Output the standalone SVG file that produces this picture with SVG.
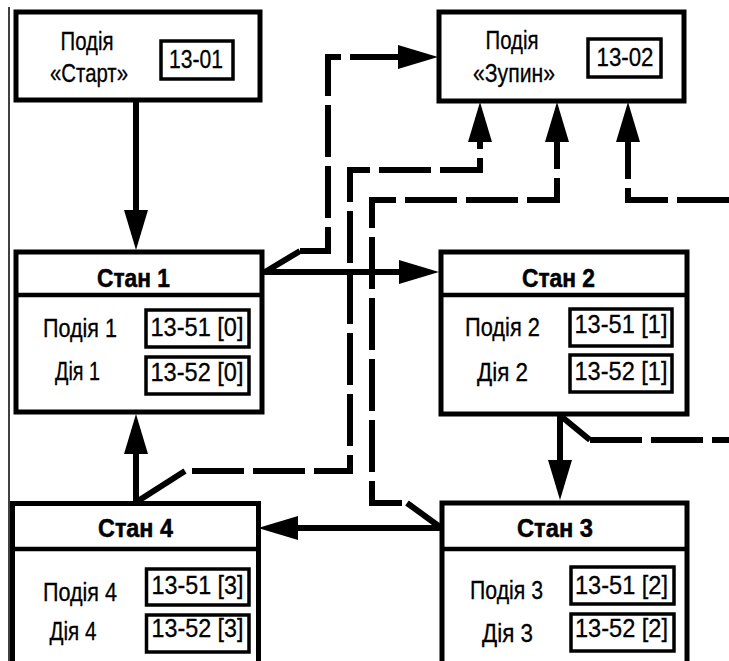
<svg xmlns="http://www.w3.org/2000/svg" width="729" height="661" viewBox="0 0 729 661">
<style>
.box{fill:#fff;stroke:#000;stroke-width:5}
.inner{fill:none;stroke:#000;stroke-width:3.5}
.div{stroke:#000;stroke-width:4.5;fill:none}
.t{font-family:"Liberation Sans Narrow","Liberation Sans",Arial,sans-serif;font-size:25px;fill:#000;text-anchor:middle;stroke:#000;stroke-width:0.3}
.b{font-weight:bold;stroke-width:0.5}
.solid{fill:none;stroke:#000;stroke-width:6}
.dash{fill:none;stroke:#000;stroke-width:6;stroke-dasharray:52 9}
</style>
<defs>
<marker id="ah" markerUnits="userSpaceOnUse" markerWidth="42" markerHeight="26" refX="0" refY="12" orient="auto" overflow="visible">
<path d="M0,0 L40,12 L0,24 Z" fill="#000"/>
</marker>
</defs>
<rect width="729" height="661" fill="#fff"/>
<line x1="9" y1="7" x2="9" y2="661" stroke="#000" stroke-width="1.5"/>

<g id="start">
<rect class="box" x="16" y="12" width="244" height="88"/>
<text class="t" x="87" y="50" textLength="53" lengthAdjust="spacingAndGlyphs">Подія</text>
<text class="t" x="89" y="82" textLength="78" lengthAdjust="spacingAndGlyphs">«Старт»</text>
<rect class="inner" x="161" y="41" width="72" height="38"/>
<text class="t" x="196" y="68" textLength="54" lengthAdjust="spacingAndGlyphs">13-01</text>
</g>

<g id="stop">
<rect class="box" x="439" y="12" width="245" height="89"/>
<text class="t" x="512" y="49" textLength="53" lengthAdjust="spacingAndGlyphs">Подія</text>
<text class="t" x="514" y="82" textLength="82" lengthAdjust="spacingAndGlyphs">«Зупин»</text>
<rect class="inner" x="588" y="39" width="73" height="38"/>
<text class="t" x="625" y="66" textLength="57" lengthAdjust="spacingAndGlyphs">13-02</text>
</g>

<g id="stan1">
<rect class="box" x="16" y="252" width="246" height="160"/>
<line class="div" x1="16" y1="295" x2="262" y2="295"/>
<text class="t b" x="133.5" y="287" textLength="73" lengthAdjust="spacingAndGlyphs">Стан 1</text>
<text class="t" x="80" y="337" textLength="74" lengthAdjust="spacingAndGlyphs">Подія 1</text>
<text class="t" x="77.5" y="380" textLength="45" lengthAdjust="spacingAndGlyphs">Дія 1</text>
<rect class="inner" x="146" y="310" width="103" height="37"/>
<rect class="inner" x="146" y="357" width="103" height="37"/>
<text class="t" x="197" y="336" textLength="93" lengthAdjust="spacingAndGlyphs">13-51 [0]</text>
<text class="t" x="197" y="381" textLength="93" lengthAdjust="spacingAndGlyphs">13-52 [0]</text>
</g>

<g id="stan2">
<rect class="box" x="441" y="252" width="246" height="162"/>
<line class="div" x1="441" y1="295" x2="687" y2="295"/>
<text class="t b" x="558.5" y="287" textLength="73" lengthAdjust="spacingAndGlyphs">Стан 2</text>
<text class="t" x="502.5" y="336" textLength="75" lengthAdjust="spacingAndGlyphs">Подія 2</text>
<text class="t" x="502.5" y="381" textLength="51" lengthAdjust="spacingAndGlyphs">Дія 2</text>
<rect class="inner" x="570" y="309" width="102" height="37"/>
<rect class="inner" x="570" y="355" width="102" height="37"/>
<text class="t" x="621" y="333" textLength="93" lengthAdjust="spacingAndGlyphs">13-51 [1]</text>
<text class="t" x="621" y="380" textLength="93" lengthAdjust="spacingAndGlyphs">13-52 [1]</text>
</g>

<g id="stan4">
<rect class="box" x="12.5" y="503.5" width="246" height="170"/>
<line class="div" x1="12.5" y1="549" x2="258.5" y2="549"/>
<text class="t b" x="135.5" y="537" textLength="75" lengthAdjust="spacingAndGlyphs">Стан 4</text>
<text class="t" x="80" y="601" textLength="74" lengthAdjust="spacingAndGlyphs">Подія 4</text>
<text class="t" x="73" y="640" textLength="47" lengthAdjust="spacingAndGlyphs">Дія 4</text>
<rect class="inner" x="146.5" y="569" width="102.5" height="36"/>
<rect class="inner" x="146.5" y="615" width="102.5" height="37"/>
<text class="t" x="197.5" y="594" textLength="92" lengthAdjust="spacingAndGlyphs">13-51 [3]</text>
<text class="t" x="197.5" y="637" textLength="92" lengthAdjust="spacingAndGlyphs">13-52 [3]</text>
</g>

<g id="stan3">
<rect class="box" x="442" y="503" width="245" height="170"/>
<line class="div" x1="442" y1="549" x2="687" y2="549"/>
<text class="t b" x="555" y="537" textLength="76" lengthAdjust="spacingAndGlyphs">Стан 3</text>
<text class="t" x="506.5" y="599" textLength="73" lengthAdjust="spacingAndGlyphs">Подія 3</text>
<text class="t" x="507.5" y="642" textLength="51" lengthAdjust="spacingAndGlyphs">Дія 3</text>
<rect class="inner" x="571" y="567" width="103" height="37"/>
<rect class="inner" x="571" y="614" width="103" height="37"/>
<text class="t" x="621.5" y="594" textLength="93" lengthAdjust="spacingAndGlyphs">13-51 [2]</text>
<text class="t" x="621.5" y="637" textLength="93" lengthAdjust="spacingAndGlyphs">13-52 [2]</text>
</g>

<g id="connectors">
<path class="solid" d="M136,102 V210" marker-end="url(#ah)"/>
<path class="solid" d="M264,272 H399" marker-end="url(#ah)"/>
<path class="solid" d="M265,272 L300,251"/>
<path class="dash" d="M300,251 H328 V57 H398" marker-end="url(#ah)"/>
<path class="solid" d="M136,501 V454" marker-end="url(#ah)"/>
<path class="solid" d="M138,501 L185,471"/>
<path class="dash" d="M192,471 H350 V170 H480 V142" marker-end="url(#ah)"/>
<path class="solid" d="M440,527 L407,503"/>
<path class="dash" d="M402,503 H372 V200 H557 V142" marker-end="url(#ah)"/>
<path class="dash" d="M729,200 H628 V142" marker-end="url(#ah)"/>
<path class="solid" d="M560,416 V460" marker-end="url(#ah)"/>
<path class="solid" d="M562,417 L590,440"/>
<path class="dash" d="M590,440 H729"/>
<path class="solid" d="M440,528 H298" marker-end="url(#ah)"/>
</g>
</svg>
